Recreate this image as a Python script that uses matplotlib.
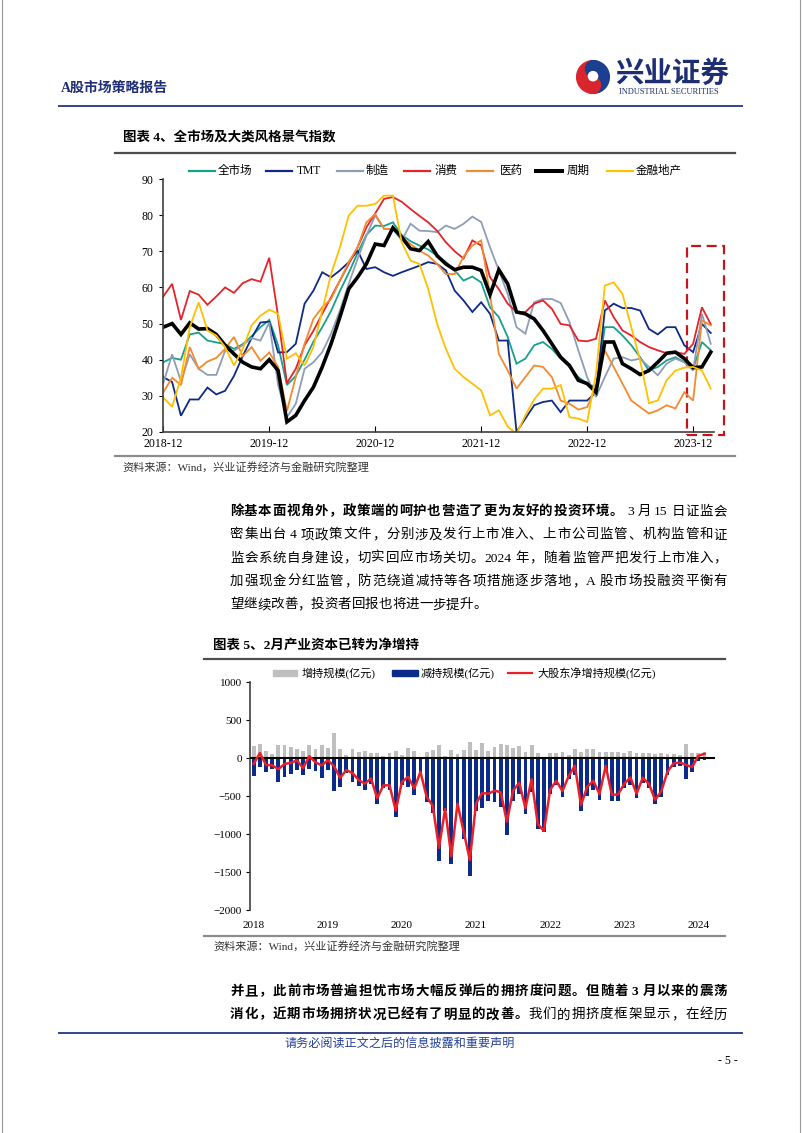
import numpy as np
import matplotlib
matplotlib.use('Agg')
import matplotlib.pyplot as plt
from matplotlib.lines import Line2D
from matplotlib.patches import Rectangle, Wedge, Circle

W, H = 802, 1133
SERIF_CJK = ['Liberation Serif', 'Noto Sans CJK SC']
SANS_CJK = ['Noto Sans CJK SC', 'DejaVu Sans']
plt.rcParams['font.family'] = SERIF_CJK

# ---------------- chart 1 data (monthly, 2018-12 .. 2024-02) ----------------
tick_labels1 = ['2018-12', '2019-12', '2020-12', '2021-12', '2022-12', '2023-12']

quan_shichang = [39.3, 40.5, 40, 47, 47.5, 45.3, 44.8, 44.3, 43, 44.3, 46.5, 49, 51, 44, 33,
                 35.5, 40, 45, 49, 53.5, 59, 64, 69.5, 74.5, 77.1, 77, 78, 74.5, 72.8, 71.6,
                 70.5, 68.8, 67, 64.7, 61.9, 63, 61.4, 54.5, 51.8, 46.3, 38.9, 40.3, 44, 44.9,
                 43, 40.3, 38, 35.2, 33.4, 32.4, 49, 49, 46.7, 44, 40.7, 37, 38, 39.8, 40.7,
                 39.3, 37.5, 44.9, 42.6]
tmt = [35.2, 33.8, 24.5, 29, 29, 32.3, 30.4, 31.4, 35.5, 41, 46, 50.3, 50.5, 42, 42.1,
       44.4, 55.5, 59.1, 64.2, 62.8, 64.7, 67, 70.2, 65.1, 65.6, 64.2, 63.2, 64.2, 65.1, 66,
       67, 66.5, 64.7, 59.1, 56.4, 53.2, 55.9, 52.7, 45.3, 45.3, 20, 23.7, 27.4, 28.3,
       28.7, 25.5, 28.7, 28.7, 28.7, 31, 53.6, 55.5, 54.3, 54.3, 53.6, 48.5, 47, 49, 49,
       44, 42.1, 49.9, 47.4]
zhizao = [33.5, 41.5, 34, 41.5, 37.5, 35.8, 35.8, 42.5, 42.5, 44, 46, 45.3, 50.3, 33, 24.1,
          27.8, 37.5, 39.3, 42.1, 47.2, 53.6, 61, 67.9, 74.3, 79.9, 76.2, 76.2, 73, 77.6,
          75.7, 75.6, 75.3, 77.1, 76.2, 77.6, 79.6, 78.1, 71.1, 64.7, 58.2, 49, 47.2, 55.9,
          56.8, 56.8, 55.7, 50.4, 42.6, 35.2, 29.7, 35.2, 40.3, 40.7, 39.8, 40.3, 38, 35.7,
          38.9, 40.3, 39.3, 37, 52.7, 44.4]
xiaofei = [57.5, 61, 51, 59, 58, 55.2, 57.5, 60, 58.5, 61.2, 62.3, 61.6, 68.2, 52, 33.5,
           37.5, 44, 48, 52.7, 57.3, 61.9, 66.5, 71.1, 76.6, 80.5, 84.5, 85, 83.7, 81.7,
           79.8, 78, 75.7, 72.5, 70, 68, 73, 71.6, 62.8, 59.5, 55.5, 53.2, 53.2, 55.5, 56.4,
           54.1, 49.9, 49.5, 45.3, 45.1, 45.8, 56.4, 51.8, 48.1, 46.7, 44.9, 43.5, 42.6,
           41.8, 42.1, 41.6, 44.4, 54.5, 49.8]
yiyao = [31, 35, 33, 43.5, 37.5, 39.5, 40.5, 43, 46.3, 41, 43.5, 39.7, 42, 38, 25.8,
         35.2, 44.4, 51.3, 54.5, 56.8, 61.9, 67, 71.1, 78, 80.3, 76.2, 76.2, 73.9, 72, 70.2,
         68.8, 66.5, 63.7, 63.7, 68.5, 71.6, 73, 58, 41.6, 37, 32, 35.2, 38.4, 38, 35.2,
         28.7, 27.8, 26.2, 26.9, 32.4, 42.6, 38, 33.4, 28.7, 26.9, 25.1, 26, 27.4, 26.5,
         31, 28.7, 50.9, 49.5]
zhouqi = [49, 50, 47, 50.2, 48.5, 48.6, 47, 44, 41.6, 39.3, 38, 37.5, 40, 37, 22.8,
          24.6, 28.7, 32.4, 38, 44.4, 51.8, 59.6, 62.8, 66.5, 72, 71.6, 76.5, 73.9, 70.7,
          70.2, 72.7, 68.8, 66.5, 64.9, 65.6, 65.6, 64.7, 58, 64.9, 61, 53.2, 52.7, 51.3,
          48.1, 44.4, 40.7, 38.4, 34.3, 33.4, 31, 44.9, 44.9, 38.9, 37.5, 35.9, 37, 39.3,
          41.8, 42.1, 40.3, 37.8, 38, 42.1]
jinrong = [29.5, 27, 35, 49, 55.9, 48.1, 46.7, 43.5, 38.4, 43, 49.5, 52.2, 53.8, 52.7, 40.3,
           41.8, 38.4, 43.5, 53.6, 63.7, 71.1, 79.9, 82.6, 82.6, 83.1, 85.4, 85.4, 72.5,
           67.4, 66.5, 59.6, 50, 43, 37.5, 35.2, 33.4, 31.5, 24.6, 26, 21.5, 19.5, 24.6, 29,
           32, 32, 33, 24.1, 23.7, 22.8, 36, 60.5, 61.4, 58.2, 49, 39.8, 28, 28.7, 34.3, 37,
           37.8, 38, 37, 32]

series1 = [
    ('全市场', quan_shichang, '#17a08c', 1.3),
    ('TMT', tmt, '#0f2a85', 1.3),
    ('制造', zhizao, '#8e9db6', 1.3),
    ('消费', xiaofei, '#e5232b', 1.3),
    ('医药', yiyao, '#f28a30', 1.3),
    ('周期', zhouqi, '#000000', 2.6),
    ('金融地产', jinrong, '#ffc000', 1.3),
]

# ---------------- chart 2 data (monthly, 2018-01 .. 2024-02) ----------------
year_labels2 = ['2018', '2019', '2020', '2021', '2022', '2023', '2024']
zengchi = [163, 180, 93, 53, 168, 168, 141, 123, 93, 172, 119, 168,
           128, 335, 119, 40, 123, 75, 88, 70, 70, 30, 66, 88,
           44, 128, 88, 18, 75, 101, 168, 30, 106, 49, 101, 207,
           100, 200, 90, 150, 190, 170, 130, 155, 80, 170, 60, 10,
           60, 60, 75, 40, 120, 80, 120, 120, 75, 75, 75, 80,
           60, 95, 60, 70, 60, 50, 70, 50, 50, 40, 180, 70,
           70, 75]
jianchi = [-240, -115, -185, -150, -315, -246, -205, -155, -225, -150, -175, -265,
           -158, -440, -380, -200, -320, -365, -425, -340, -600, -390, -425, -780,
           -360, -375, -490, -200, -585, -730, -1350, -700, -1400, -650, -1070, -1550,
           -700, -660, -560, -580, -640, -1010, -560, -480, -740, -450, -930, -970,
           -480, -360, -510, -280, -220, -700, -500, -420, -550, -180, -560, -560,
           -400, -350, -530, -330, -400, -600, -510, -230, -120, -100, -270, -190,
           -40, -20]
jingzengchi = [-77, 65, -92, -97, -147, -78, -64, -32, -132, 22, -56, -97,
               -30, -105, -261, -160, -197, -290, -337, -270, -530, -360, -359, -692,
               -316, -247, -402, -182, -510, -629, -1182, -670, -1294, -601, -969, -1343,
               -600, -460, -470, -430, -450, -840, -430, -325, -660, -280, -870, -960,
               -420, -300, -435, -240, -100, -620, -380, -300, -475, -105, -485, -480,
               -340, -255, -470, -260, -340, -550, -440, -180, -70, -60, -90, -120,
               30, 55]

NAVY_TXT = '#1d2e74'


def px(x, y):
    return x / W, 1 - y / H


def hline(fig, x0, x1, y, color, lw):
    fig.add_artist(Line2D([x0 / W, x1 / W], [1 - y / H, 1 - y / H], color=color, lw=lw,
                          transform=fig.transFigure))


def is_cjk(ch):
    return ord(ch) > 0x2E80


def text_line(fig, rend, x0, x1, yc, segments, size, justify=True):
    toks = []
    for txt, bold in segments:
        buf = ''
        for ch in txt + '\0':
            if ch == '\0' or is_cjk(ch):
                if buf.strip():
                    lp = 3 if buf.startswith(' ') else 0
                    rp = 3 if buf.endswith(' ') else 0
                    toks.append((buf.strip(), bold, lp, rp))
                buf = ''
                if ch != '\0':
                    toks.append((ch, bold, 0, 0))
            else:
                buf += ch
    size_px = size * 100 / 72
    yb = yc + 0.38 * size_px
    arts, widths = [], []
    for t, bold, lp, rp in toks:
        a = fig.text(0, 0, t, fontsize=size, fontweight='bold' if bold else 'normal',
                     family=SERIF_CJK, va='baseline', ha='left', color='black')
        w = a.get_window_extent(rend).width
        arts.append(a)
        widths.append(w + lp + rp)
    gap = (x1 - x0 - sum(widths)) / (len(toks) - 1) if justify else 0
    x = x0
    for a, w, tk in zip(arts, widths, toks):
        a.set_position(px(x + tk[2], yb))
        x += w + gap


fig = plt.figure(figsize=(W / 100, H / 100), dpi=100)
fig.patch.set_facecolor('white')
rend = fig.canvas.get_renderer()

# page border
fig.add_artist(Line2D([1.5 / W, 1.5 / W], [0, 1], color='#9a9a9a', lw=0.8, transform=fig.transFigure))
fig.add_artist(Line2D([800 / W, 800 / W], [0, 1], color='#9a9a9a', lw=0.8, transform=fig.transFigure))

# ---------------- header ----------------
fig.text(*px(61, 88), 'A股市场策略报告', fontsize=10, fontweight='bold', color=NAVY_TXT,
         va='center', ha='left')
fig.text(*px(615, 74), '兴业证券', fontsize=20.5, fontweight='bold', color=NAVY_TXT,
         family=SANS_CJK, va='center', ha='left')
fig.text(*px(619, 92.5), 'INDUSTRIAL SECURITIES', fontsize=6, color=NAVY_TXT,
         family='Liberation Serif', va='center', ha='left')
lax = fig.add_axes([575 / W, 1 - 96 / H, 36 / W, 38 / H])
lax.set_xlim(-1.1, 1.1)
lax.set_ylim(-1.1, 1.1)
lax.set_aspect('equal')
lax.axis('off')
lax.add_patch(Wedge((0, 0), 1, 95, 275, color='#d9262e'))
lax.add_patch(Wedge((0, 0), 1, -85, 95, color='#1c3f90'))
lax.add_patch(Circle((0.04, 0.5), 0.5, color='#1c3f90'))
lax.add_patch(Circle((-0.04, -0.5), 0.5, color='#d9262e'))
lax.add_patch(Circle((0.0, 0.05), 0.28, color='white'))
hline(fig, 59, 742, 106, '#34438a', 1.4)

# ---------------- chart 1 ----------------
fig.text(*px(123, 138), '图表 4、全市场及大类风格景气指数', fontsize=9.7, fontweight='bold',
         va='center', ha='left')
hline(fig, 115, 735, 153, '#4d4d4d', 1.6)

ax1 = fig.add_axes([163.3 / W, 1 - 432 / H, 551 / W, 253 / H])
x1 = np.arange(len(zhouqi))
for name, vals, col, lw in series1:
    ax1.plot(x1, vals, color=col, lw=lw, solid_joinstyle='miter')
ax1.set_xlim(0, 62.4)
ax1.set_ylim(20, 90)
ax1.set_yticks(range(20, 91, 10))
ax1.set_xticks(range(0, 61, 12))
ax1.set_xticklabels(tick_labels1)
ax1.tick_params(axis='both', direction='in', length=4, width=0.8, labelsize=8.5,
                colors='black', pad=4)
ax1.tick_params(axis='y', direction='out', length=3)
for s in ['top', 'right']:
    ax1.spines[s].set_visible(False)
for s in ['left', 'bottom']:
    ax1.spines[s].set_color('#404040')
    ax1.spines[s].set_linewidth(1.2)
box = Rectangle((59.3, 19.3), 4.2, 52.2, fill=False, edgecolor='#c2151d', lw=1.6,
                linestyle=(0, (4.5, 2.5)), clip_on=False)
ax1.add_patch(box)

leg_pos = [(189, 218), (266, 297), (337, 366), (404, 435), (467, 500), (536, 567), (607, 636)]
for (lx, tx), (name, vals, col, lw) in zip(leg_pos, series1):
    fig.add_artist(Line2D([lx / W, (lx + 26) / W], [1 - 171 / H, 1 - 171 / H], color=col,
                          lw=lw + 0.3, transform=fig.transFigure))
    fig.text(*px(tx, 171), name, fontsize=8.3, va='center', ha='left')

hline(fig, 115, 735, 456, '#8c8c8c', 1.6)
fig.text(*px(122, 467), '资料来源：Wind，兴业证券经济与金融研究院整理', fontsize=8,
         color='#333333', va='center', ha='left')

# ---------------- paragraph 1 ----------------
p1 = [
    [('除基本面视角外，政策端的呵护也营造了更为友好的投资环境。', True), (' 3 月 15 日证监会', False)],
    [('密集出台 4 项政策文件，分别涉及发行上市准入、上市公司监管、机构监管和证', False)],
    [('监会系统自身建设，切实回应市场关切。2024 年，随着监管严把发行上市准入，', False)],
    [('加强现金分红监管，防范绕道减持等各项措施逐步落地，A 股市场投融资平衡有', False)],
    [('望继续改善，投资者回报也将进一步提升。', False)],
]
for i, segs in enumerate(p1):
    text_line(fig, rend, 230, 727, 510 + 23.3 * i, segs, 9.7, justify=(i < len(p1) - 1))

# ---------------- chart 2 ----------------
fig.text(*px(213, 645), '图表 5、2月产业资本已转为净增持', fontsize=9.7, fontweight='bold',
         va='center', ha='left')
hline(fig, 204, 725, 659, '#4d4d4d', 1.6)

ax2 = fig.add_axes([250 / W, 1 - 910 / H, 465 / W, 228 / H])
x2 = np.arange(len(zengchi))
ax2.bar(x2, zengchi, width=0.62, color='#bfbfbf', zorder=2)
ax2.bar(x2, jianchi, width=0.62, color='#0b2b8a', zorder=2)
ax2.plot(x2, jingzengchi, color='#e8202a', lw=1.8, zorder=4)
ax2.axhline(0, color='black', lw=1.5, zorder=3)
ax2.set_xlim(-0.6, 74.7)
ax2.set_ylim(-2000, 1000)
ax2.set_yticks(range(-2000, 1001, 500))
ax2.set_xticks(range(0, 73, 12))
ax2.set_xticklabels(year_labels2)
ax2.tick_params(axis='x', length=0, labelsize=8, pad=8)
ax2.tick_params(axis='y', direction='out', length=3, width=0.8, labelsize=8, pad=3)
for s in ['top', 'right', 'bottom']:
    ax2.spines[s].set_visible(False)
ax2.spines['left'].set_color('#404040')
ax2.spines['left'].set_linewidth(1.2)

fig.add_artist(Rectangle((273 / W, 1 - 676 / H), 24 / W, 6 / H, color='#bfbfbf',
                         transform=fig.transFigure))
fig.text(*px(302, 673), '增持规模(亿元)', fontsize=8, va='center', ha='left')
fig.add_artist(Rectangle((392 / W, 1 - 676 / H), 26 / W, 6 / H, color='#0b2b8a',
                         transform=fig.transFigure))
fig.text(*px(421, 673), '减持规模(亿元)', fontsize=8, va='center', ha='left')
fig.add_artist(Line2D([508 / W, 532 / W], [1 - 673 / H, 1 - 673 / H], color='#e8202a', lw=1.6,
                      transform=fig.transFigure))
fig.text(*px(537, 673), '大股东净增持规模(亿元)', fontsize=8, va='center', ha='left')

hline(fig, 204, 725, 936, '#8c8c8c', 1.6)
fig.text(*px(213, 946), '资料来源：Wind，兴业证券经济与金融研究院整理', fontsize=8,
         color='#333333', va='center', ha='left')

# ---------------- paragraph 2 ----------------
p2 = [
    [('并且，此前市场普遍担忧市场大幅反弹后的拥挤度问题。但随着 3 月以来的震荡', True)],
    [('消化，近期市场拥挤状况已经有了明显的改善。', True), ('我们的拥挤度框架显示，在经历', False)],
]
for i, segs in enumerate(p2):
    text_line(fig, rend, 230, 727, 990 + 23.3 * i, segs, 9.7, justify=True)

# ---------------- footer ----------------
hline(fig, 59, 742, 1033, '#34438a', 1.4)
fig.text(*px(284, 1044), '请务必阅读正文之后的信息披露和重要声明', fontsize=8.7, color='#23409a',
         va='center', ha='left')
fig.text(*px(738, 1061), '- 5 -', fontsize=8.5, va='center', ha='right')

fig.savefig('out.png', dpi=100)
